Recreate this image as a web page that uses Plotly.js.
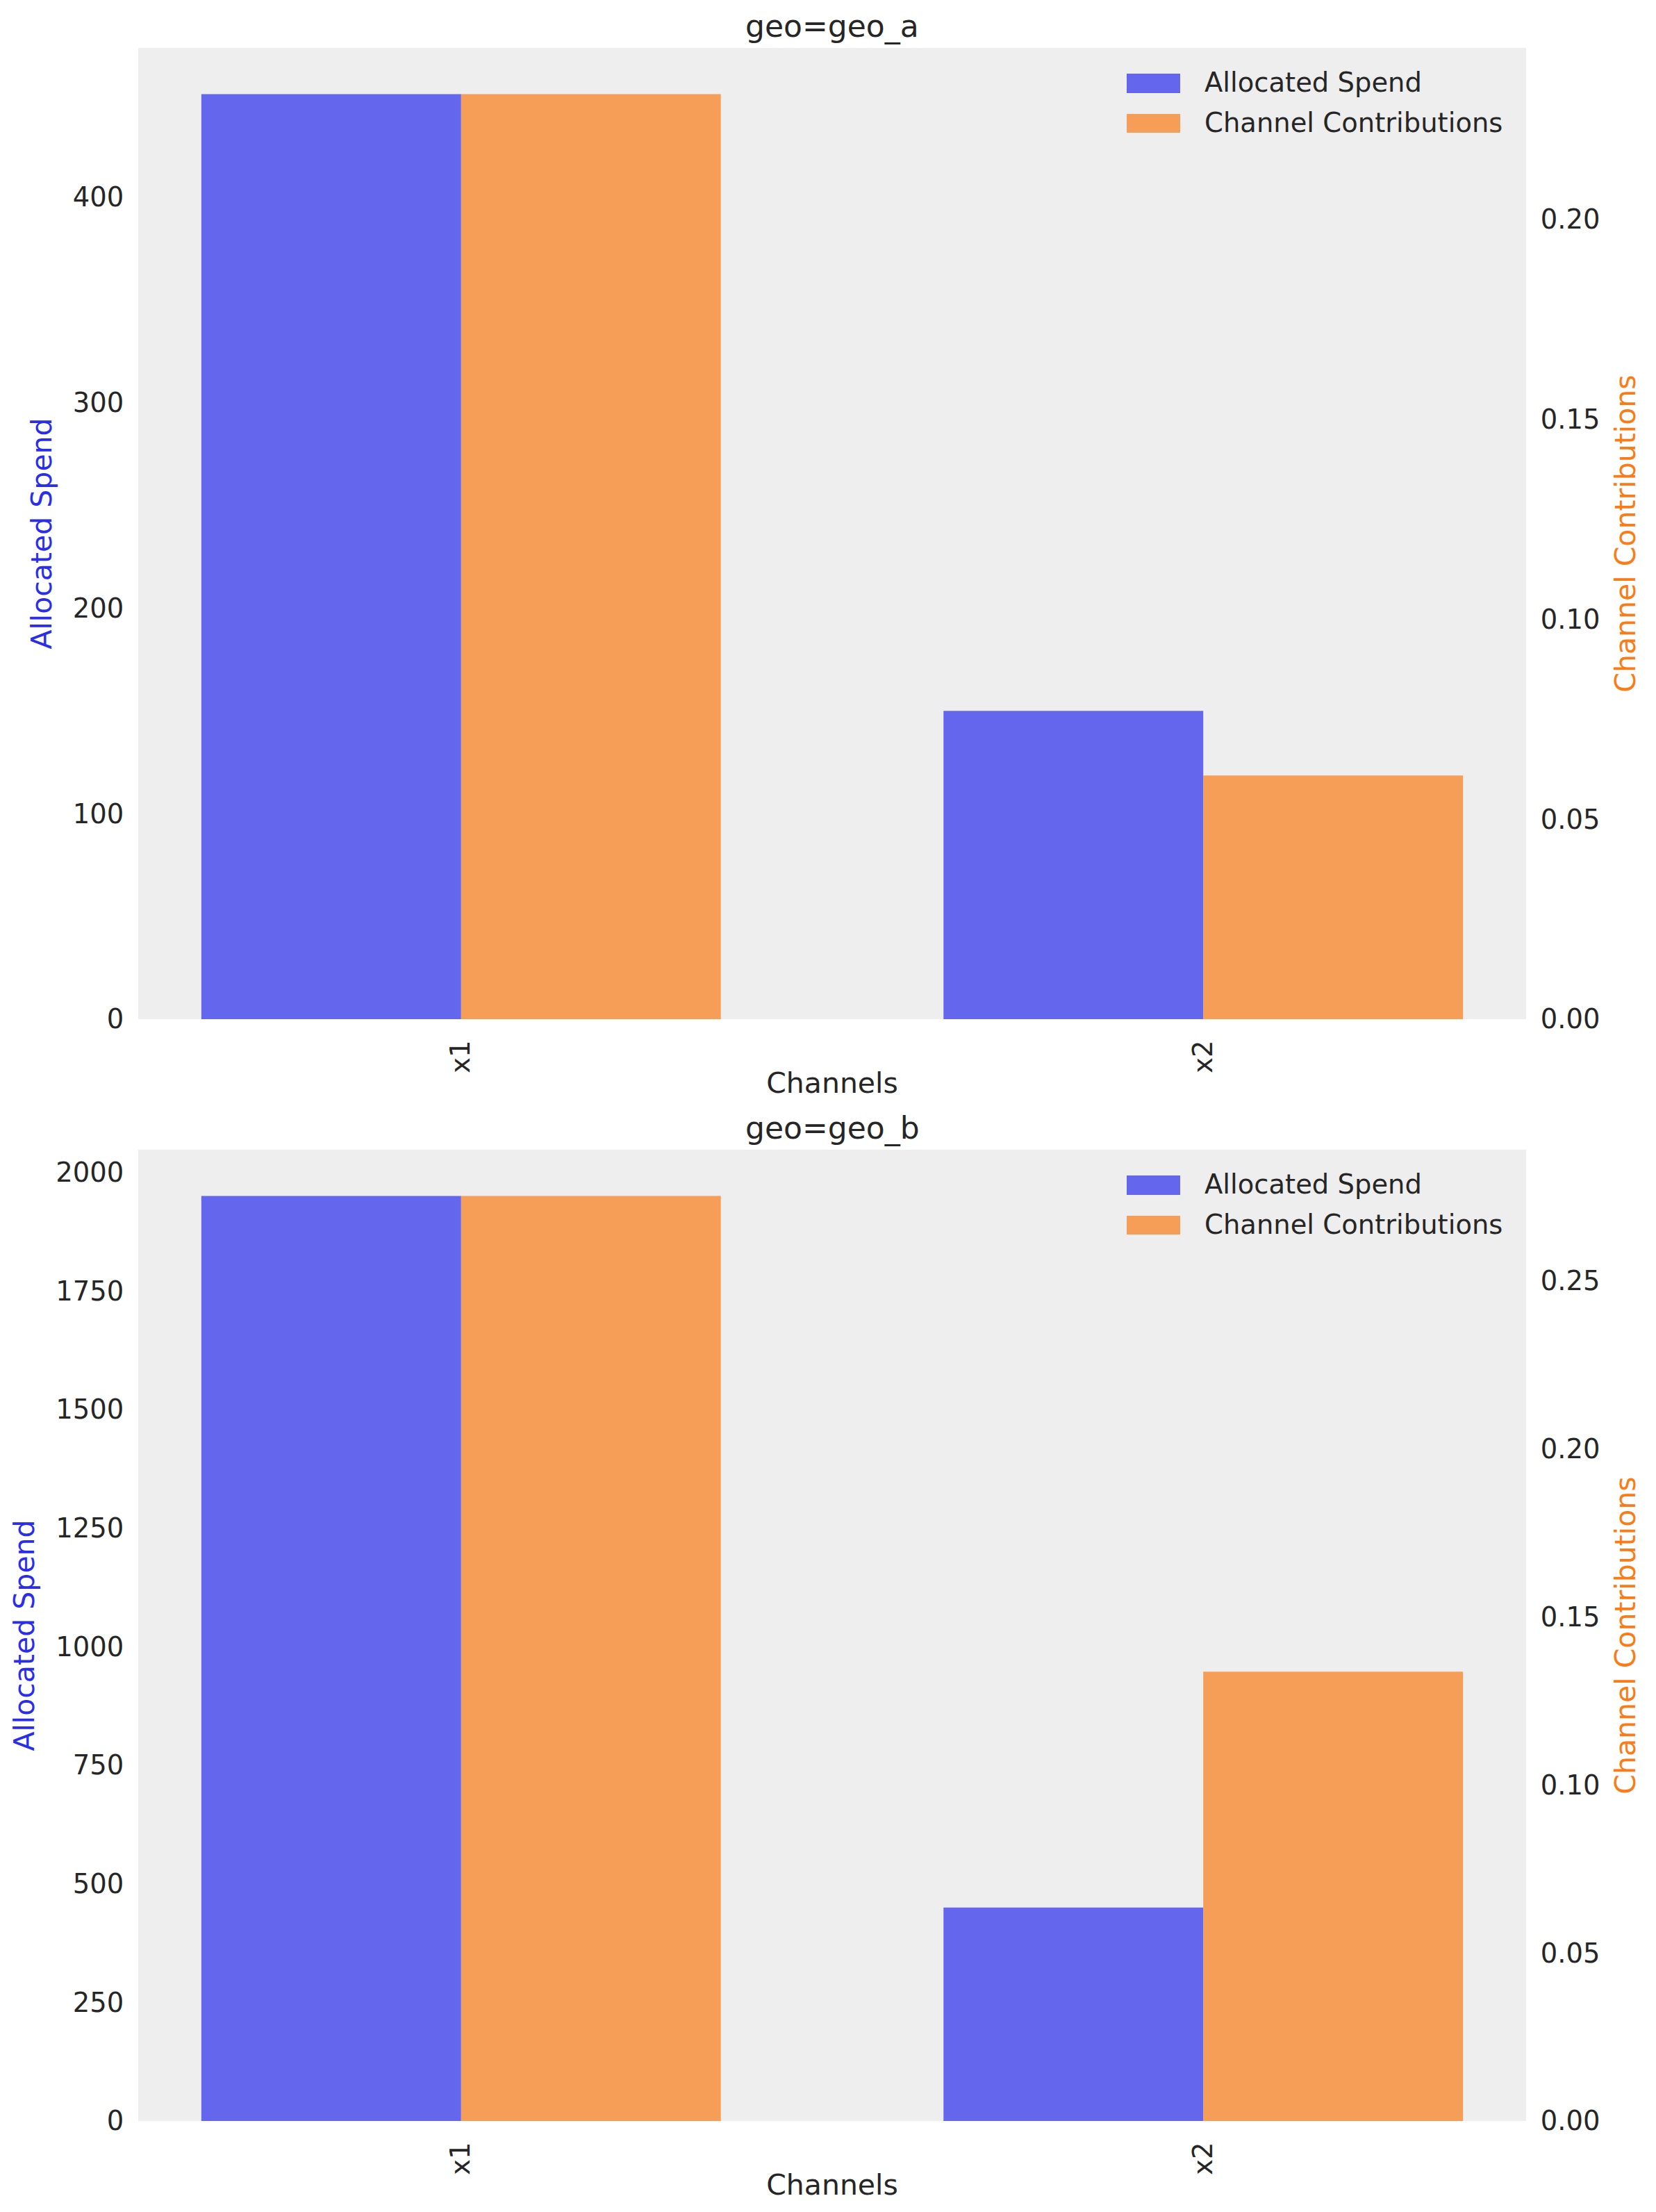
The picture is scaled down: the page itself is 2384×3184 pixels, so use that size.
<!DOCTYPE html>
<html>
<head>
<meta charset="utf-8">
<script src="https://cdn.plot.ly/plotly-3.0.1.min.js"></script>
<style>
  body { margin: 0; background: white; }
  #chart { width: 2384px; height: 3184px; }
</style>
</head>
<body>
<div id="chart"></div>
<script>
// data
const channels = ["x1", "x2"];
const geos = ["geo_a", "geo_b"];
const spendGeoA = [450, 150];
const contribGeoA = [0.2312, 0.0609];
const spendGeoB = [1950, 450];
const contribGeoB = [0.2752, 0.1337];
const seriesNames = ["Allocated Spend", "Channel Contributions"];

const blue = "#2a2eec";
const orange = "#fa7c17";
const textColor = "#262626";
const font = "DejaVu Sans, Verdana, sans-serif";

// page geometry (px)
const W = 2384, H = 3184;
const mL = 199, mR = 187, mT = 69, mB = 131;
const plotH = H - mT - mB;
const panelH = 1398;

const topDomain = [(plotH - panelH) / plotH, 1];
const botDomain = [0, panelH / plotH];

const barW = 0.35;

function bars(spend, contrib, xa, ya, ya2) {
    return [
        {
            type: "bar", name: seriesNames[0], x: channels, y: spend,
            xaxis: xa, yaxis: ya, width: barW, offset: -barW,
            marker: { color: blue, line: { width: 0 } }, opacity: 0.7,
            showlegend: false
        },
        {
            type: "bar", name: seriesNames[1], x: channels, y: contrib,
            xaxis: xa, yaxis: ya2, width: barW, offset: 0,
            marker: { color: orange, line: { width: 0 } }, opacity: 0.7,
            showlegend: false
        }
    ];
}

let data = bars(spendGeoA, contribGeoA, "x", "y", "y2")
    .concat(bars(spendGeoB, contribGeoB, "x2", "y3", "y4"));

const tickFont = { family: font, size: 38.5, color: textColor };
const labelFont = (c) => ({ family: font, size: 41, color: c });

function xAxis(anchor) {
    return {
        type: "category", anchor: anchor, range: [-0.435, 1.435],
        showgrid: false, zeroline: false, showline: false,
        ticks: "outside", ticklen: 14, tickcolor: "rgba(0,0,0,0)",
        tickangle: -90, tickfont: tickFont,
        title: { text: "Channels", font: labelFont(textColor), standoff: 0 }
    };
}

function leftAxis(domain, maxVal, dtick) {
    return {
        domain: domain, range: [0, maxVal * 1.05], dtick: dtick,
        showgrid: false, zeroline: false, showline: false,
        ticks: "outside", ticklen: 12, tickcolor: "rgba(0,0,0,0)",
        tickfont: tickFont,
        title: { text: seriesNames[0], font: labelFont(blue), standoff: 17 }
    };
}

function rightAxis(overlay, anchor, maxVal) {
    return {
        overlaying: overlay, anchor: anchor, side: "right",
        range: [0, maxVal * 1.05], dtick: 0.05, tickformat: ".2f",
        showgrid: false, zeroline: false, showline: false,
        ticks: "outside", ticklen: 12, tickcolor: "rgba(0,0,0,0)",
        tickfont: tickFont,
        title: { text: seriesNames[1], font: labelFont(orange), standoff: 22 }
    };
}

// legend drawn inside each panel, top right (positions in px from panel top-left)
let shapes = [];
let annotations = [];
const legendRows = [
    { name: seriesNames[0], color: blue, top: 37, bottom: 65, mid: 49 },
    { name: seriesNames[1], color: orange, top: 95, bottom: 122, mid: 107 }
];
const panelW = W - mL - mR;
[["x domain", "y domain"], ["x2 domain", "y3 domain"]].forEach(function (refs) {
    legendRows.forEach(function (row) {
        shapes.push({
            type: "rect", xref: refs[0], yref: refs[1],
            x0: (1622 - mL) / panelW, x1: (1699 - mL) / panelW,
            y0: 1 - row.bottom / panelH, y1: 1 - row.top / panelH,
            fillcolor: row.color, opacity: 0.7, line: { width: 0 }
        });
        annotations.push({
            xref: refs[0], yref: refs[1],
            x: (1732 - mL) / panelW, y: 1 - row.mid / panelH,
            xanchor: "left", yanchor: "middle", showarrow: false,
            text: row.name, font: tickFont
        });
    });
});

// panel titles
geos.forEach(function (g, i) {
    annotations.push({
        xref: i === 0 ? "x domain" : "x2 domain",
        yref: i === 0 ? "y domain" : "y3 domain",
        x: 0.5, y: 1, yshift: 31, xanchor: "center", yanchor: "middle",
        showarrow: false, text: "geo=" + g,
        font: { family: font, size: 44, color: textColor }
    });
});

let layout = {
    width: W, height: H,
    margin: { l: mL, r: mR, t: mT, b: mB, autoexpand: false },
    paper_bgcolor: "white",
    plot_bgcolor: "#eeeeee",
    font: { family: font, color: textColor },
    showlegend: false,
    xaxis: xAxis("y"),
    yaxis: leftAxis(topDomain, Math.max(...spendGeoA), 100),
    yaxis2: rightAxis("y", "x", Math.max(...contribGeoA)),
    xaxis2: xAxis("y3"),
    yaxis3: leftAxis(botDomain, Math.max(...spendGeoB), 250),
    yaxis4: rightAxis("y3", "x2", Math.max(...contribGeoB)),
    shapes: shapes,
    annotations: annotations
};

Plotly.newPlot("chart", data, layout, { staticPlot: true, responsive: false });
</script>
</body>
</html>
